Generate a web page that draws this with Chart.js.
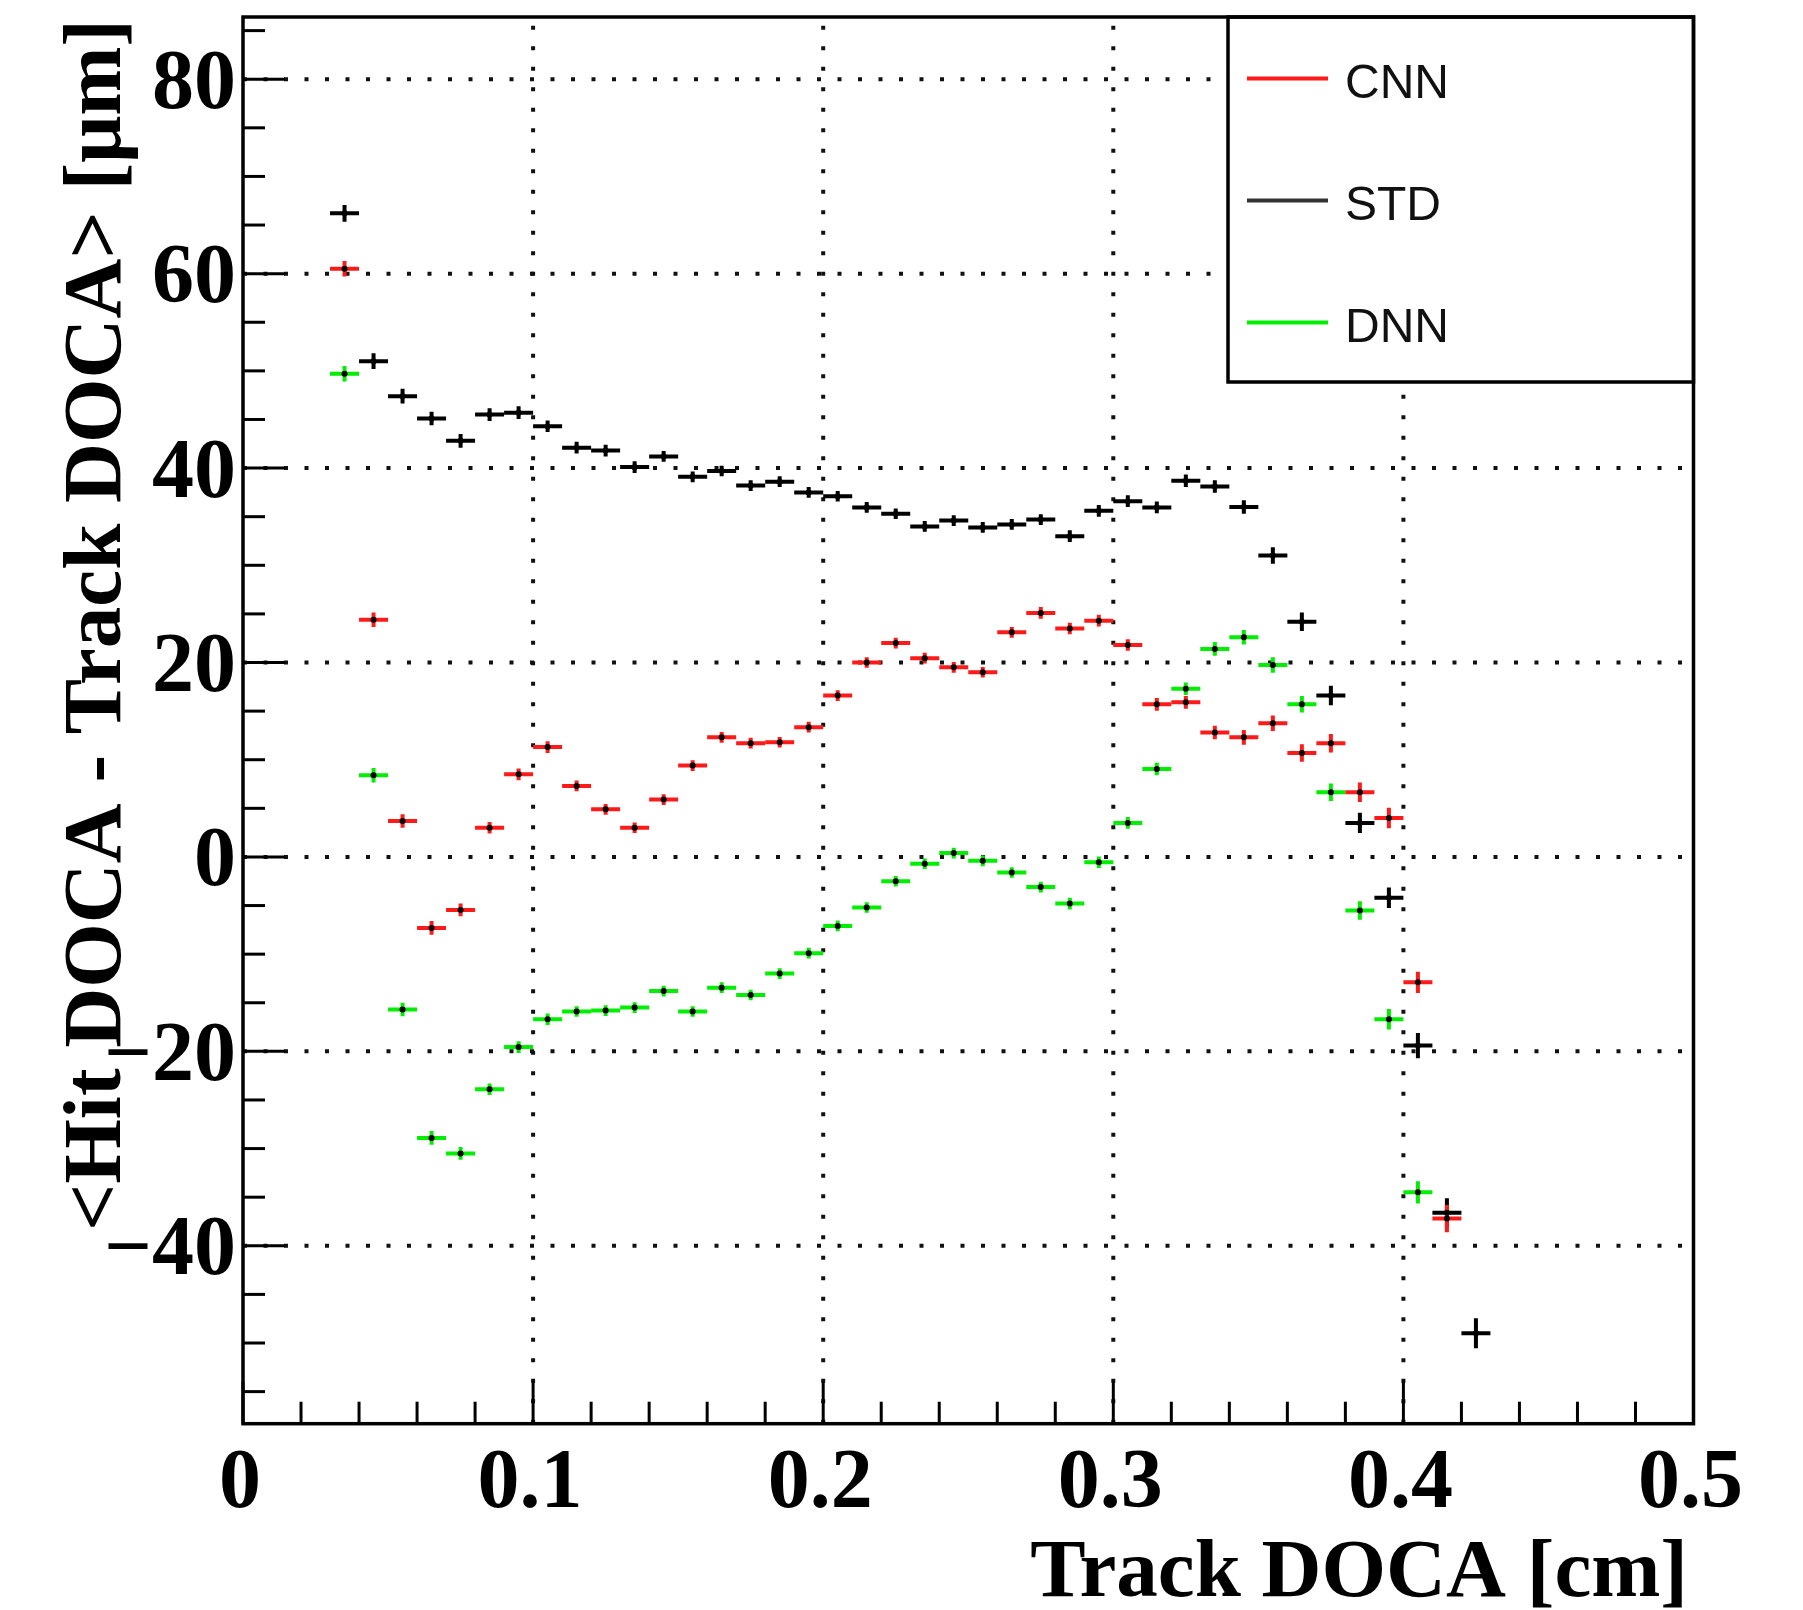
<!DOCTYPE html>
<html lang="en">
<head>
<meta charset="UTF-8">
<title>Hit DOCA - Track DOCA</title>
<script src="https://cdn.jsdelivr.net/npm/chart.js"></script>
<style>
    html, body { margin: 0; padding: 0; background: #fff; }
    canvas { display: block; }
</style>
</head>
<body>
<canvas id="docaChart" width="1803" height="1610"></canvas>
<script>
// Track DOCA bin centres [cm], bins are 0.01 wide
const binCenters = [0.035, 0.045, 0.055, 0.065, 0.075, 0.085, 0.095, 0.105, 0.115, 0.125,
                    0.135, 0.145, 0.155, 0.165, 0.175, 0.185, 0.195, 0.205, 0.215, 0.225,
                    0.235, 0.245, 0.255, 0.265, 0.275, 0.285, 0.295, 0.305, 0.315, 0.325,
                    0.335, 0.345, 0.355, 0.365, 0.375, 0.385, 0.395, 0.405, 0.415, 0.425];
const binHalfWidth = 0.005;

// <Hit DOCA - Track DOCA> [um] per bin
const cnnMean = [60.5, 24.4, 3.7, -7.3, -5.45, 3.0, 8.5, 11.3, 7.3, 4.9,
                 3.0, 5.9, 9.4, 12.3, 11.7, 11.8, 13.35, 16.6, 20.0, 22.0,
                 20.45, 19.5, 19.0, 23.1, 25.1, 23.5, 24.3, 21.8, 15.7, 15.9,
                 12.8, 12.3, 13.75, 10.7, 11.7, 6.65, 4.0, -12.9, -37.2];
const stdMean = [66.2, 51.0, 47.4, 45.1, 42.8, 45.5, 45.7, 44.3, 42.1, 41.8,
                 40.1, 41.2, 39.1, 39.7, 38.2, 38.6, 37.5, 37.1, 35.95, 35.3,
                 34.0, 34.6, 33.9, 34.2, 34.7, 33.0, 35.6, 36.6, 35.95, 38.7,
                 38.1, 36.0, 31.0, 24.2, 16.6, 3.5, -4.2, -19.4, -36.6, -49.0];
const dnnMean = [49.7, 8.4, -15.7, -28.9, -30.5, -23.9, -19.56, -16.7, -15.9, -15.8,
                 -15.5, -13.8, -15.9, -13.45, -14.2, -12.0, -9.9, -7.1, -5.2, -2.5,
                 -0.7, 0.4, -0.4, -1.6, -3.1, -4.8, -0.55, 3.5, 9.05, 17.3,
                 21.4, 22.6, 19.75, 15.7, 6.65, -5.5, -16.7, -34.5];

// errors on the mean
const cnnErr = [0.8, 0.75, 0.7, 0.7, 0.65, 0.6, 0.6, 0.6, 0.55, 0.55,
                0.55, 0.55, 0.55, 0.55, 0.55, 0.55, 0.55, 0.55, 0.55, 0.55,
                0.55, 0.55, 0.55, 0.55, 0.6, 0.6, 0.6, 0.6, 0.65, 0.65,
                0.7, 0.75, 0.8, 0.9, 0.95, 1.0, 1.05, 1.1, 1.4];
const stdErr = [0.85, 0.8, 0.75, 0.7, 0.7, 0.65, 0.65, 0.6, 0.6, 0.6,
                0.6, 0.55, 0.55, 0.55, 0.55, 0.55, 0.55, 0.55, 0.55, 0.55,
                0.55, 0.55, 0.55, 0.55, 0.55, 0.6, 0.6, 0.6, 0.6, 0.65,
                0.65, 0.7, 0.85, 0.95, 1.0, 1.05, 1.05, 1.3, 1.5, 1.55];
const dnnErr = [0.8, 0.75, 0.7, 0.7, 0.65, 0.6, 0.6, 0.6, 0.55, 0.55,
                0.55, 0.55, 0.55, 0.55, 0.55, 0.55, 0.55, 0.55, 0.55, 0.55,
                0.55, 0.55, 0.55, 0.55, 0.55, 0.6, 0.6, 0.6, 0.65, 0.65,
                0.7, 0.75, 0.8, 0.85, 0.9, 0.95, 1.05, 1.15];

const xTicks = [0, 0.1, 0.2, 0.3, 0.4, 0.5];
const xTickLabels = ['0', '0.1', '0.2', '0.3', '0.4', '0.5'];
const yTicks = [-40, -20, 0, 20, 40, 60, 80];
const yTickLabels = ['\u221240', '\u221220', '0', '20', '40', '60', '80'];

const series = [
    { label: 'CNN', mean: cnnMean, err: cnnErr, color: '#ff1a1a' },
    { label: 'STD', mean: stdMean, err: stdErr, color: '#000000' },
    { label: 'DNN', mean: dnnMean, err: dnnErr, color: '#00ee00' }
];

const serifBold = (size) => `bold ${size}px "Liberation Serif", "DejaVu Serif", serif`;

// ROOT style frame: dotted grid, inner ticks, error crosses, legend
const rootFrame = {
    id: 'rootFrame',
    beforeDatasetsDraw(chart) {
        const { ctx, chartArea: a, scales: { x, y } } = chart;
        ctx.save();

        // dotted grid
        ctx.strokeStyle = '#111';
        ctx.lineWidth = 4;
        ctx.setLineDash([4, 16.5]);
        xTicks.slice(1, -1).forEach(v => {
            const px = x.getPixelForValue(v);
            ctx.beginPath();
            ctx.moveTo(px, a.bottom);
            ctx.lineTo(px, a.top);
            ctx.stroke();
        });
        yTicks.forEach(v => {
            const py = y.getPixelForValue(v);
            ctx.beginPath();
            ctx.moveTo(a.left, py);
            ctx.lineTo(a.right, py);
            ctx.stroke();
        });
        ctx.setLineDash([]);

        // tick marks on the left and bottom axes
        ctx.strokeStyle = '#000';
        ctx.lineWidth = 3;
        for (let v = -55; v <= y.max; v += 5) {
            const py = y.getPixelForValue(v);
            const len = v % 20 === 0 ? 42 : 22;
            ctx.beginPath();
            ctx.moveTo(a.left, py);
            ctx.lineTo(a.left + len, py);
            ctx.stroke();
        }
        for (let k = 0; k <= 25; k++) {
            const px = x.getPixelForValue(k * 0.02);
            const len = k % 5 === 0 ? 42 : 22;
            ctx.beginPath();
            ctx.moveTo(px, a.bottom);
            ctx.lineTo(px, a.bottom - len);
            ctx.stroke();
        }

        // error crosses, drawn under the black markers
        ctx.lineWidth = 4;
        chart.data.datasets.forEach(ds => {
            ctx.strokeStyle = ds.errColor;
            ds.data.forEach((p, i) => {
                const cx = x.getPixelForValue(p.x);
                const cy = y.getPixelForValue(p.y);
                ctx.beginPath();
                ctx.moveTo(x.getPixelForValue(p.x - binHalfWidth), cy);
                ctx.lineTo(x.getPixelForValue(p.x + binHalfWidth), cy);
                ctx.moveTo(cx, y.getPixelForValue(p.y - ds.errs[i]));
                ctx.lineTo(cx, y.getPixelForValue(p.y + ds.errs[i]));
                ctx.stroke();
            });
        });
        ctx.restore();
    },
    afterDatasetsDraw(chart) {
        const { ctx, chartArea: a, scales: { x, y } } = chart;
        ctx.save();

        // legend box
        const box = { left: 1228, top: a.top, right: a.right, bottom: 382 };
        ctx.fillStyle = '#fff';
        ctx.fillRect(box.left, box.top, box.right - box.left, box.bottom - box.top);
        ctx.strokeStyle = '#000';
        ctx.lineWidth = 3.5;
        ctx.strokeRect(box.left, box.top, box.right - box.left, box.bottom - box.top);
        ctx.font = '48px "Liberation Sans", Arial, sans-serif';
        ctx.textAlign = 'left';
        ctx.textBaseline = 'alphabetic';
        series.forEach((s, i) => {
            const ly = 78.5 + i * 122;
            ctx.strokeStyle = s.color === '#000000' ? '#333' : s.color;
            ctx.lineWidth = 4;
            ctx.beginPath();
            ctx.moveTo(1247, ly);
            ctx.lineTo(1328, ly);
            ctx.stroke();
            ctx.fillStyle = '#111';
            ctx.fillText(s.label, 1345, ly + 19.5);
        });

        // frame
        ctx.strokeStyle = '#000';
        ctx.lineWidth = 3.5;
        ctx.strokeRect(a.left, a.top, a.right - a.left, a.bottom - a.top);

        // tick labels
        ctx.fillStyle = '#000';
        ctx.font = serifBold(84);
        ctx.textAlign = 'right';
        yTicks.forEach((v, i) => {
            ctx.fillText(yTickLabels[i], 236, y.getPixelForValue(v) + 28.5);
        });
        ctx.textAlign = 'center';
        xTicks.forEach((v, i) => {
            ctx.fillText(xTickLabels[i], x.getPixelForValue(v) - 3, 1507);
        });

        // axis titles
        ctx.font = serifBold(83);
        ctx.textAlign = 'right';
        ctx.fillText('Track DOCA [cm]', 1688, 1596);
        ctx.translate(120, a.top + 2);
        ctx.rotate(-Math.PI / 2);
        ctx.fillText('<Hit DOCA - Track DOCA> [\u03bcm]', 0, 0);
        ctx.restore();
    }
};

new Chart(document.getElementById('docaChart'), {
    type: 'scatter',
    data: {
        datasets: series.map(s => ({
            label: s.label,
            data: s.mean.map((v, i) => ({ x: binCenters[i], y: v })),
            errs: s.err,
            errColor: s.color,
            pointRadius: 3,
            pointBorderWidth: 0,
            pointBackgroundColor: '#000',
            showLine: false
        })).reverse()
    },
    options: {
        responsive: false,
        devicePixelRatio: 1,
        animation: false,
        events: [],
        layout: { padding: { left: 243, right: 109.5, top: 17, bottom: 186.3 } },
        plugins: { legend: { display: false }, tooltip: { enabled: false } },
        scales: {
            x: { type: 'linear', min: 0, max: 0.5, display: false },
            y: { type: 'linear', min: -58.3, max: 86.4, display: false }
        }
    },
    plugins: [rootFrame]
});
</script>
</body>
</html>
